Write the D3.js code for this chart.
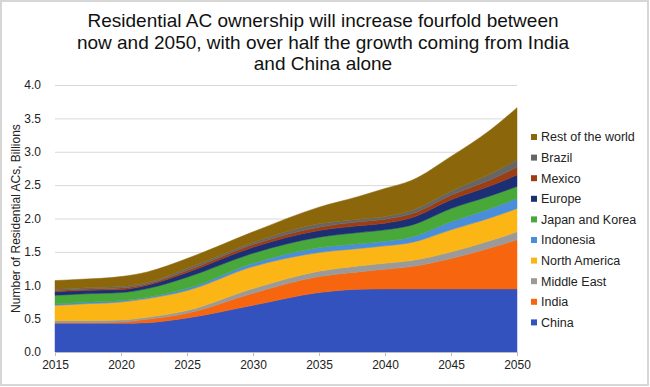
<!DOCTYPE html>
<html>
<head>
<meta charset="utf-8">
<script src="https://cdn.jsdelivr.net/npm/d3@7"></script>
<style>
  body { margin: 0; background: #fff; }
  svg { display: block; font-family: "Liberation Sans", Arial, sans-serif; }
  .grid line { stroke: #d9d9d9; }
  .tick text { font-size: 12px; fill: #222; }
</style>
</head>
<body>
<svg width="650" height="387"></svg>
<script>
// years on the x axis
let years = [2015, 2017, 2020, 2022, 2025, 2030, 2035, 2038, 2040, 2042, 2045, 2048, 2050];

// billions of residential ACs per region
let china        = [0.43, 0.43, 0.43, 0.44, 0.51, 0.70, 0.89, 0.94, 0.945, 0.945, 0.945, 0.945, 0.945];
let india        = [0.01, 0.01, 0.02, 0.05, 0.07, 0.18, 0.24, 0.26, 0.295, 0.335, 0.455, 0.615, 0.735];
let middleEast   = [0.03, 0.03, 0.03, 0.03, 0.04, 0.07, 0.08, 0.09, 0.09, 0.09, 0.10, 0.11, 0.12];
let northAmerica = [0.23, 0.25, 0.27, 0.28, 0.30, 0.33, 0.28, 0.26, 0.26, 0.27, 0.33, 0.34, 0.35];
let indonesia    = [0.02, 0.02, 0.02, 0.02, 0.03, 0.05, 0.07, 0.07, 0.07, 0.08, 0.12, 0.14, 0.15];
let japanKorea   = [0.13, 0.13, 0.12, 0.13, 0.17, 0.15, 0.16, 0.17, 0.17, 0.18, 0.20, 0.19, 0.18];
let europe       = [0.05, 0.05, 0.045, 0.05, 0.07, 0.09, 0.10, 0.10, 0.10, 0.11, 0.13, 0.15, 0.17];
let mexico       = [0.02, 0.02, 0.025, 0.02, 0.03, 0.04, 0.05, 0.06, 0.06, 0.06, 0.07, 0.09, 0.12];
let brazil       = [0.02, 0.02, 0.02, 0.02, 0.03, 0.03, 0.05, 0.04, 0.04, 0.05, 0.06, 0.09, 0.11];
let restOfWorld  = [0.13, 0.13, 0.15, 0.16, 0.15, 0.16, 0.25, 0.34, 0.42, 0.45, 0.52, 0.66, 0.78];

// stack order, bottom first
let seriesNames = ["China", "India", "Middle East", "North America", "Indonesia",
  "Japan and Korea", "Europe", "Mexico", "Brazil", "Rest of the world"];
let seriesValues = [china, india, middleEast, northAmerica, indonesia,
  japanKorea, europe, mexico, brazil, restOfWorld];
let seriesColors = ["#3452be", "#f8650f", "#9a9a9a", "#fbb515", "#4a8ddb",
  "#48a83a", "#1d2f74", "#9c3d14", "#666666", "#8b660a"];

let yTicks = [0, 0.5, 1, 1.5, 2, 2.5, 3, 3.5, 4];
let xTicks = [2015, 2020, 2025, 2030, 2035, 2040, 2045, 2050];

let titleLines = [
  "Residential AC ownership will increase fourfold between",
  "now and 2050, with over half the growth coming from India",
  "and China alone"
];

let svg = d3.select("svg");

// light frame round the whole picture
svg.append("rect")
  .attr("x", 1).attr("y", 1)
  .attr("width", 647).attr("height", 384)
  .attr("fill", "none")
  .attr("stroke", "#d6d6d6")
  .attr("stroke-width", 2);

let margin = { top: 85, left: 55, right: 133, bottom: 35 };
let plotWidth = 650 - margin.left - margin.right;
let plotHeight = 387 - margin.top - margin.bottom;

let x = d3.scaleLinear().domain([2015, 2050]).range([0, plotWidth]);
let y = d3.scaleLinear().domain([0, 4]).range([plotHeight, 0]);

let plot = svg.append("g")
  .attr("transform", "translate(" + margin.left + "," + margin.top + ")");

// horizontal grid
plot.append("g")
  .attr("class", "grid")
  .call(d3.axisLeft(y).tickValues(yTicks).tickSize(-plotWidth).tickFormat(""))
  .call(g => g.select(".domain").remove());

// build rows for the stack
let table = years.map((yr, i) => {
  let row = { year: yr };
  seriesNames.forEach((name, k) => { row[name] = seriesValues[k][i]; });
  return row;
});

let stack = d3.stack().keys(seriesNames);
let layers = stack(table);

let area = d3.area()
  .x(d => x(d.data.year))
  .y0(d => y(d[0]))
  .y1(d => y(d[1]))
  .curve(d3.curveMonotoneX);

plot.selectAll("path.layer")
  .data(layers)
  .enter().append("path")
  .attr("class", "layer")
  .attr("d", area)
  .attr("fill", (d, i) => seriesColors[i])
  .attr("stroke", (d, i) => seriesColors[i])
  .attr("stroke-width", 0.5);

// y axis labels only
let yAxis = plot.append("g")
  .call(d3.axisLeft(y).tickValues(yTicks).tickSize(0).tickPadding(14)
    .tickFormat(d3.format(".1f")));
yAxis.select(".domain").remove();

// x axis
let xAxis = plot.append("g")
  .attr("transform", "translate(0," + plotHeight + ")")
  .call(d3.axisBottom(x).tickValues(xTicks).tickSize(4).tickPadding(4)
    .tickFormat(d3.format("d")));
xAxis.select(".domain").attr("stroke", "#bdbdbd");
xAxis.selectAll(".tick line").attr("stroke", "#bdbdbd");

// y axis title
svg.append("text")
  .attr("transform", "translate(16," + (margin.top + plotHeight / 2) + ")rotate(-90)")
  .attr("text-anchor", "middle")
  .attr("dy", "0.35em")
  .style("font-size", "12px")
  .attr("fill", "#222")
  .text("Number of Residential ACs, Billions");

// title
svg.append("text")
  .attr("text-anchor", "middle")
  .style("font-size", "19px")
  .attr("fill", "#111")
  .selectAll("tspan")
  .data(titleLines)
  .enter().append("tspan")
  .attr("x", 323)
  .attr("y", (d, i) => 27 + i * 21.5)
  .text(d => d);

// legend, top entry is the last layer
let legend = svg.append("g").attr("transform", "translate(531,137)");
let legendItems = legend.selectAll("g")
  .data(seriesNames.slice().reverse())
  .enter().append("g")
  .attr("transform", (d, i) => "translate(0," + (i * 20.6) + ")");

legendItems.append("rect")
  .attr("x", 0).attr("y", -3)
  .attr("width", 6).attr("height", 6)
  .attr("fill", d => seriesColors[seriesNames.indexOf(d)]);

legendItems.append("text")
  .attr("x", 10)
  .attr("dy", "0.35em")
  .style("font-size", "12.5px")
  .attr("fill", "#222")
  .text(d => d);
</script>
</body>
</html>
